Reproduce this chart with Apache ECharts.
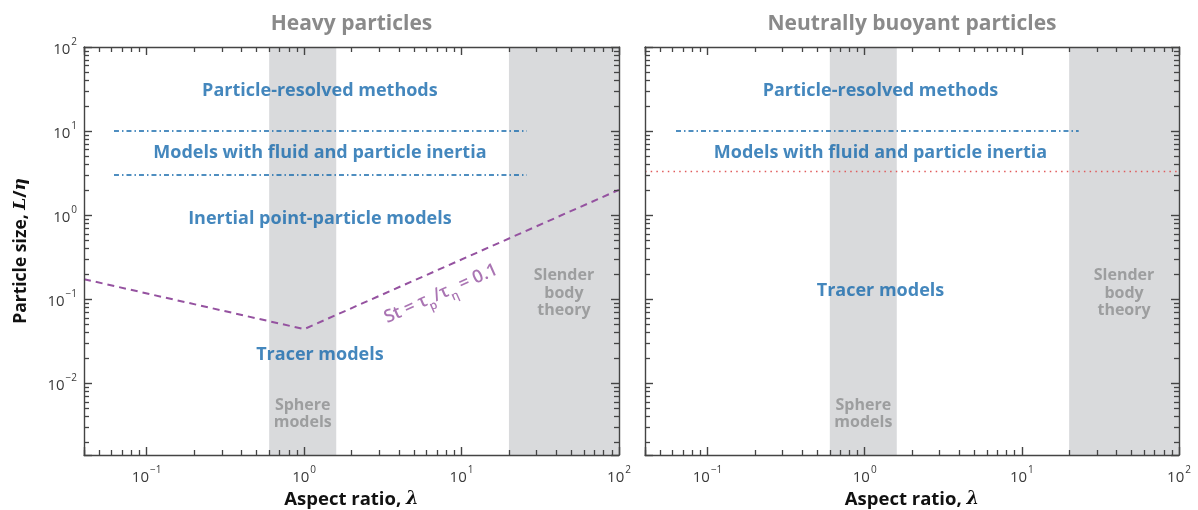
<!DOCTYPE html>
<html>
<head>
<meta charset="utf-8">
<script src="https://cdn.jsdelivr.net/npm/echarts@6/dist/echarts.min.js"></script>
<style>
  html, body { margin: 0; padding: 0; background: #ffffff; }
  #chart { width: 1198px; height: 510px; }
</style>
</head>
<body>
<div id="chart"></div>
<script>
// ---- data -------------------------------------------------------------
const panelTitles = ['Heavy particles', 'Neutrally buoyant particles'];
const xExtent = [0.04, 100];      // aspect ratio, lambda
const yExtent = [0.0014, 100];    // particle size, L/eta

// shaded regions of validity along the aspect-ratio axis
const sphereBand = [0.6, 1.6];
const slenderBand = [20, 100];

// heavy particles: Stokes-number boundary St = tau_p / tau_eta = 0.1
const stokesX = [0.04, 1, 100];
const stokesY = [0.173, 0.044, 2.0];

// heavy particles: dash-dot boundaries between model classes
const heavyUpperX = [0.062, 26];
const heavyUpperY = [10, 10];
const heavyLowerX = [0.062, 26];
const heavyLowerY = [3, 3];

// neutrally buoyant particles
const buoyantUpperX = [0.063, 23];
const buoyantUpperY = [10, 10];
const buoyantDottedX = [0.04, 100];
const buoyantDottedY = [3.3, 3.3];

// region names and where they sit (data coordinates)
const heavyRegionText = ['Particle-resolved methods', 'Models with fluid and particle inertia',
                         'Inertial point-particle models', 'Tracer models'];
const heavyRegionX = [1.26, 1.26, 1.26, 1.26];
const heavyRegionY = [30, 5.5, 0.9, 0.0216];
const buoyantRegionText = ['Particle-resolved methods', 'Models with fluid and particle inertia',
                           'Tracer models'];
const buoyantRegionX = [1.26, 1.26, 1.26];
const buoyantRegionY = [30, 5.5, 0.124];

const bandText = ['Sphere\nmodels', 'Slender\nbody\ntheory'];
const bandTextX = [0.98, 44.7];
const bandTextY = [0.0043, 0.118];

const stokesText = 'St = τ{sub|p}/τ{sub|η} = 0.1';
const stokesTextX = [7.4];
const stokesTextY = [0.116];

// ---- styling helpers --------------------------------------------------
const FONT = '"Open Sans", "Noto Sans", "DejaVu Sans", sans-serif';
const AXIS_COLOR = '#444444';
const BLUE = '#1569ac';
const GREY_TEXT = '#8d8e90';
const BAND = '#d9dadc';
const PURPLE = '#9552a0';

const grids = [
  { left: 84, top: 47, width: 535, height: 408, outerBoundsMode: 'none', containLabel: false },
  { left: 645, top: 47, width: 534, height: 408, outerBoundsMode: 'none', containLabel: false }
];

function powerLabel(v) {
  const e = Math.round(Math.log10(v));
  const s = e < 0 ? '\u2212' + (-e) : String(e);
  return '{b|10}{s|' + s + '}';
}
const tickRich = {
  b: { fontFamily: FONT, fontSize: 15, color: '#3a3a3a', lineHeight: 20, verticalAlign: 'bottom' },
  s: { fontFamily: FONT, fontSize: 10, color: '#3a3a3a', lineHeight: 20, verticalAlign: 'top', padding: [0, 0, 0, 1] }
};

function makeAxes(g) {
  const common = {
    type: 'log', logBase: 10, gridIndex: g, z: 20,
    axisLine: { show: true, onZero: false, lineStyle: { color: AXIS_COLOR, width: 1.4 } },
    axisTick: { show: true, inside: true, length: 8, lineStyle: { color: AXIS_COLOR, width: 1.4 } },
    minorTick: { show: true, splitNumber: 9, length: 5, lineStyle: { color: AXIS_COLOR, width: 1.3 } },
    splitLine: { show: false },
    minorSplitLine: { show: false }
  };
  const x = [
    Object.assign({}, common, {
      position: 'bottom', min: xExtent[0], max: xExtent[1],
      axisLabel: { show: true, formatter: powerLabel, rich: tickRich, margin: 10, showMinLabel: false },
      name: 'Aspect ratio, {i|λ}', nameLocation: 'middle', nameGap: 28,
      nameTextStyle: {
        fontFamily: FONT, fontSize: 18.5, fontWeight: 700, color: '#111',
        rich: { i: { fontFamily: '"DejaVu Serif", serif', fontStyle: 'italic', fontSize: 18, fontWeight: 700, color: '#111' } }
      }
    }),
    Object.assign({}, common, {
      position: 'top', min: xExtent[0], max: xExtent[1],
      axisLabel: { show: false },
      name: panelTitles[g], nameLocation: 'middle', nameGap: 12,
      nameTextStyle: { fontFamily: FONT, fontSize: 21, fontWeight: 700, color: '#8a8a8a' }
    })
  ];
  const y = [
    Object.assign({}, common, {
      position: 'left', min: yExtent[0], max: yExtent[1],
      axisLabel: { show: g === 0, formatter: powerLabel, rich: tickRich, margin: 7, showMinLabel: false },
      name: g === 0 ? 'Particle size, {i|L}/{i|η}' : '', nameLocation: 'middle', nameGap: 54, nameRotate: 90,
      nameTextStyle: {
        fontFamily: FONT, fontSize: 17.5, fontWeight: 700, color: '#111',
        rich: { i: { fontFamily: '"DejaVu Serif", serif', fontStyle: 'italic', fontSize: 17, fontWeight: 700, color: '#111' } }
      }
    }),
    Object.assign({}, common, {
      position: 'right', min: yExtent[0], max: yExtent[1],
      axisLabel: { show: false }
    })
  ];
  return { x, y };
}

function renderBand(params, api) {
  const p0 = api.coord([api.value(0), api.value(3)]);
  const p1 = api.coord([api.value(1), api.value(2)]);
  return {
    type: 'rect',
    shape: { x: p0[0], y: p0[1], width: p1[0] - p0[0], height: p1[1] - p0[1] },
    style: { fill: BAND }
  };
}

function zip(xs, ys) { return xs.map((x, i) => [x, ys[i]]); }

function textSeries(g, texts, xs, ys, labelStyle) {
  return {
    type: 'scatter', xAxisIndex: 2 * g, yAxisIndex: 2 * g, silent: true, z: 15,
    symbolSize: 1, itemStyle: { color: 'rgba(0,0,0,0)' },
    data: texts.map((t, i) => ({ value: [xs[i], ys[i]], name: t })),
    label: Object.assign({ show: true, position: 'inside', formatter: p => p.name }, labelStyle)
  };
}

const blueLabel = { fontFamily: FONT, fontSize: 18, fontWeight: 700, color: BLUE };
const greyLabel = { fontFamily: FONT, fontSize: 16, fontWeight: 700, color: GREY_TEXT, lineHeight: 17.5, align: 'center' };
const dashDot = { color: BLUE, width: 1.6, type: [5, 3, 1.5, 3] };

const xAxes = [], yAxes = [], series = [];
for (let g = 0; g < 2; g++) {
  const a = makeAxes(g);
  xAxes.push(...a.x);
  yAxes.push(...a.y);
  series.push({
    type: 'custom', xAxisIndex: 2 * g, yAxisIndex: 2 * g, silent: true, z: 1, clip: false,
    renderItem: renderBand, encode: { x: [0, 1], y: [2, 3] },
    data: [[sphereBand[0], sphereBand[1], yExtent[0], yExtent[1]],
           [slenderBand[0], slenderBand[1], yExtent[0], yExtent[1]]]
  });
  series.push(textSeries(g, bandText, bandTextX, bandTextY, greyLabel));
}

function lineSeries(g, xs, ys, style) {
  return {
    type: 'line', xAxisIndex: 2 * g, yAxisIndex: 2 * g, silent: true, z: 5,
    symbol: 'none', data: zip(xs, ys), lineStyle: style, animation: false
  };
}

series.push(lineSeries(0, heavyUpperX, heavyUpperY, dashDot));
series.push(lineSeries(0, heavyLowerX, heavyLowerY, dashDot));
series.push(lineSeries(0, stokesX, stokesY, { color: PURPLE, width: 2, type: [7, 5] }));
series.push(textSeries(0, heavyRegionText, heavyRegionX, heavyRegionY, blueLabel));
series.push(textSeries(0, [stokesText], stokesTextX, stokesTextY, {
  fontFamily: FONT, fontSize: 18, fontWeight: 600, color: PURPLE, rotate: 24,
  rich: { sub: { fontFamily: FONT, fontSize: 12, fontWeight: 600, color: PURPLE, verticalAlign: 'bottom', lineHeight: 28 } }
}));

series.push(lineSeries(1, buoyantUpperX, buoyantUpperY, dashDot));
series.push(lineSeries(1, buoyantDottedX, buoyantDottedY, { color: '#e05b5b', width: 1.5, type: [1.5, 4.2] }));
series.push(textSeries(1, buoyantRegionText, buoyantRegionX, buoyantRegionY, blueLabel));

const chart = echarts.init(document.getElementById('chart'), null, { renderer: 'canvas' });
chart.setOption({
  backgroundColor: '#ffffff',
  animation: false,
  grid: grids,
  xAxis: xAxes,
  yAxis: yAxes,
  series: series
});
</script>
</body>
</html>
